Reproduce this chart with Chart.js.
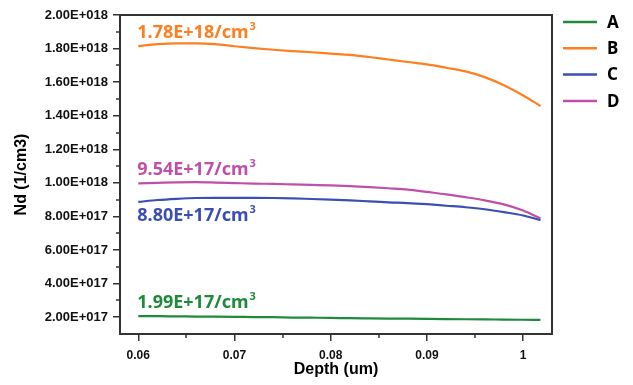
<!DOCTYPE html>
<html lang="en">
<head>
    <meta charset="UTF-8">
    <title>Nd vs Depth</title>
    <script src="https://cdn.jsdelivr.net/npm/chart.js@4.4.0/dist/chart.umd.min.js"></script>
    <style>
        html, body { margin: 0; padding: 0; background: #fff; }
        #wrap { width: 633px; height: 385px; }
    </style>
</head>
<body>
<div id="wrap"><canvas id="nd"></canvas></div>

<script>
// depth (um)
var depth = [0.060, 0.062, 0.064, 0.066, 0.068, 0.070, 0.072, 0.074, 0.076, 0.078, 0.080,
             0.082, 0.084, 0.086, 0.088, 0.090, 0.092, 0.094, 0.096, 0.098, 0.100, 0.1018];

// Nd (1/cm3) for each sample
var ndA = [2.06e17, 2.06e17, 2.05e17, 2.04e17, 2.03e17, 2.02e17, 2.01e17, 2.00e17, 1.98e17, 1.97e17, 1.96e17,
           1.94e17, 1.93e17, 1.92e17, 1.91e17, 1.90e17, 1.89e17, 1.88e17, 1.87e17, 1.86e17, 1.85e17, 1.84e17];
var ndB = [1.815e18, 1.826e18, 1.831e18, 1.831e18, 1.826e18, 1.814e18, 1.803e18, 1.793e18, 1.785e18, 1.778e18, 1.770e18,
           1.763e18, 1.750e18, 1.735e18, 1.720e18, 1.706e18, 1.686e18, 1.664e18, 1.630e18, 1.582e18, 1.521e18, 1.458e18];
var ndC = [8.87e17, 8.98e17, 9.05e17, 9.10e17, 9.11e17, 9.11e17, 9.11e17, 9.10e17, 9.08e17, 9.04e17, 9.00e17,
           8.96e17, 8.90e17, 8.84e17, 8.80e17, 8.73e17, 8.64e17, 8.55e17, 8.43e17, 8.26e17, 8.06e17, 7.78e17];
var ndD = [9.97e17, 1.000e18, 1.003e18, 1.004e18, 1.002e18, 9.99e17, 9.96e17, 9.94e17, 9.91e17, 9.88e17, 9.85e17,
           9.81e17, 9.75e17, 9.68e17, 9.60e17, 9.46e17, 9.32e17, 9.15e17, 8.96e17, 8.72e17, 8.35e17, 7.88e17];

var names = ['A', 'B', 'C', 'D'];
var colors = ['#1f8a3b', '#fd7f1f', '#3b4fb2', '#c04fa8'];

// average values written next to each curve
var avgText = ['1.99E+17/cm', '1.78E+18/cm', '8.80E+17/cm', '9.54E+17/cm'];
var avgAt = [2.54e17, 1.863e18, 7.75e17, 1.047e18];   // baseline, in Nd units

var xTicks = [0.06, 0.07, 0.08, 0.09, 0.10];
var xTickLabels = ['0.06', '0.07', '0.08', '0.09', '1'];
var xMinor = [0.065, 0.075, 0.085, 0.095];
var yTicks = [2e17, 4e17, 6e17, 8e17, 1e18, 1.2e18, 1.4e18, 1.6e18, 1.8e18, 2e18];
var yMinor = [3e17, 5e17, 7e17, 9e17, 1.1e18, 1.3e18, 1.5e18, 1.7e18, 1.9e18];

function sci(v) {
    var e = Math.floor(Math.log10(v) + 1e-9);
    var m = v / Math.pow(10, e);
    var es = String(e);
    while (es.length < 3) es = '0' + es;
    return m.toFixed(2) + 'E+' + es;
}

var series = [ndA, ndB, ndC, ndD];
var datasets = series.map(function (vals, i) {
    return {
        label: names[i],
        data: vals.map(function (v, k) { return { x: depth[k], y: v }; }),
        borderColor: colors[i],
        backgroundColor: colors[i],
        borderWidth: 2.2,
        pointRadius: 0,
        cubicInterpolationMode: 'monotone',
        fill: false
    };
});

var axisColor = '#333';
var tickFont = { family: '"Liberation Sans", Arial, sans-serif', size: 12, weight: 'bold' };
var yTickFont = { family: '"Liberation Sans", Arial, sans-serif', size: 13, weight: 'bold' };
var titleFont = { family: '"Liberation Sans", Arial, sans-serif', size: 16, weight: 'bold' };

// frame, minor ticks, curve labels and legend
var extras = {
    id: 'extras',
    afterDraw: function (chart) {
        var c = chart.ctx, a = chart.chartArea;
        var xs = chart.scales.x, ys = chart.scales.y;
        c.save();
        c.strokeStyle = axisColor;
        c.lineWidth = 2;
        c.strokeRect(a.left, a.top, a.right - a.left, a.bottom - a.top);

        c.lineWidth = 1.5;
        c.beginPath();
        xMinor.forEach(function (v) {
            var px = Math.round(xs.getPixelForValue(v));
            c.moveTo(px, a.bottom); c.lineTo(px, a.bottom + 4);
        });
        yMinor.forEach(function (v) {
            var py = Math.round(ys.getPixelForValue(v));
            c.moveTo(a.left, py); c.lineTo(a.left - 4, py);
        });
        c.stroke();

        // average labels
        var big = 'bold 18px "Noto Sans", "Open Sans", sans-serif';
        var small = 'bold 11px "Noto Sans", "Open Sans", sans-serif';
        c.textBaseline = 'alphabetic';
        c.textAlign = 'left';
        avgText.forEach(function (t, i) {
            var px = xs.getPixelForValue(depth[0]) - 1;
            var py = ys.getPixelForValue(avgAt[i]);
            c.fillStyle = colors[i];
            c.font = big;
            c.fillText(t, px, py);
            var w = c.measureText(t).width;
            c.font = small;
            c.fillText('3', px + w + 1, py - 8);
        });

        // legend
        c.font = 'bold 17px "Noto Sans", "Open Sans", sans-serif';
        c.textBaseline = 'middle';
        names.forEach(function (n, i) {
            var ly = a.top + 7 + i * 26.3;
            c.strokeStyle = colors[i];
            c.lineWidth = 2.5;
            c.beginPath();
            c.moveTo(a.right + 11, ly); c.lineTo(a.right + 45, ly);
            c.stroke();
            c.fillStyle = '#000';
            c.fillText(n, a.right + 55, ly + 1);
        });
        c.restore();
    }
};

var chart = new Chart(document.getElementById('nd').getContext('2d'), {
    type: 'line',
    data: { datasets: datasets },
    options: {
        responsive: true,
        maintainAspectRatio: false,
        animation: false,
        layout: { padding: { left: 0, top: 15, right: 81, bottom: 0 } },
        plugins: { legend: { display: false }, tooltip: { enabled: false } },
        scales: {
            x: {
                type: 'linear',
                min: 0.0581,
                max: 0.1030,
                afterBuildTicks: function (s) { s.ticks = xTicks.map(function (v) { return { value: v }; }); },
                afterFit: function (s) { s.height = 51; },
                ticks: {
                    autoSkip: false,
                    maxRotation: 0,
                    padding: 7,
                    color: '#111',
                    font: tickFont,
                    callback: function (v) { return xTickLabels[xTicks.indexOf(v)]; }
                },
                grid: { drawOnChartArea: false, tickLength: 7, color: axisColor, lineWidth: 1.5 },
                border: { color: axisColor, width: 2 },
                title: { display: true, text: 'Depth (um)', color: '#000', font: titleFont, padding: { top: 0, bottom: 6 } }
            },
            y: {
                type: 'linear',
                min: 1e17,
                max: 2e18,
                afterBuildTicks: function (s) { s.ticks = yTicks.map(function (v) { return { value: v }; }); },
                afterFit: function (s) { s.width = 120; },
                ticks: {
                    autoSkip: false,
                    padding: 5,
                    color: '#111',
                    font: yTickFont,
                    callback: function (v) { return sci(v); }
                },
                grid: { drawOnChartArea: false, tickLength: 7, color: axisColor, lineWidth: 1.5 },
                border: { color: axisColor, width: 2 },
                title: { display: true, text: 'Nd (1/cm3)', color: '#000', font: titleFont, padding: { top: 12, bottom: 0 } }
            }
        }
    },
    plugins: [extras]
});
</script>
</body>
</html>
